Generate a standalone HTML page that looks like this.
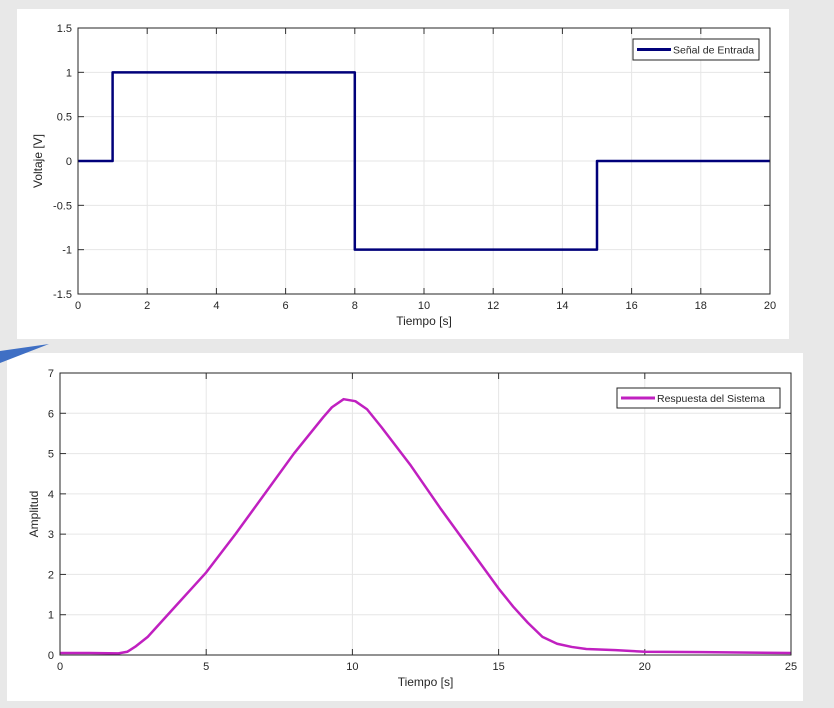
<!DOCTYPE html>
<html><head><meta charset="utf-8"><style>
body{margin:0;width:834px;height:708px;background:#e8e8e8;overflow:hidden;font-family:"Liberation Sans",sans-serif}
svg{position:absolute;left:0;top:0}
text{font-family:"Liberation Sans",sans-serif;fill:#262626}
</style></head><body>
<svg width="834" height="708" id="s">
<rect x="17" y="9" width="772" height="330" fill="#fff"/>
<rect x="7" y="353" width="796" height="348" fill="#fff"/>
<polygon points="0,351 49,344 0,363" fill="#3f6fc4"/>
<g id="top"></g>
<g id="bot"></g>
</svg>
<script>
const topT=[0,1,1,8,8,15,15,20];
const topV=[0,0,1,1,-1,-1,0,0];
const topXTicks=[0,2,4,6,8,10,12,14,16,18,20];
const topYTicks=[-1.5,-1,-0.5,0,0.5,1,1.5];
const botT=[0,1,2,2.3,2.6,3,3.5,4,4.5,5,6,7,8,8.5,9,9.3,9.7,10.1,10.5,11,12,13,14,15,15.5,16,16.5,17,17.5,18,19,20,22,25];
const botV=[0.05,0.05,0.04,0.08,0.22,0.45,0.85,1.25,1.65,2.05,3.0,4.0,5.0,5.45,5.9,6.15,6.35,6.3,6.1,5.65,4.7,3.65,2.65,1.65,1.2,0.8,0.45,0.28,0.2,0.15,0.12,0.08,0.07,0.05];
const botXTicks=[0,5,10,15,20,25];
const botYTicks=[0,1,2,3,4,5,6,7];
const NS='http://www.w3.org/2000/svg';
function mk(p,tag,a,txt){const e=document.createElementNS(NS,tag);for(const k in a)e.setAttribute(k,a[k]);if(txt!==undefined)e.textContent=txt;p.appendChild(e);return e;}
function chart(g,o){
 const sx=v=>o.x0+(v-o.xmin)/(o.xmax-o.xmin)*(o.x1-o.x0);
 const sy=v=>o.y0-(v-o.ymin)/(o.ymax-o.ymin)*(o.y0-o.y1);
 o.xt.forEach(t=>{const x=sx(t);
  let l=mk(g,'line',{x1:x,x2:x,y1:o.y1,y2:o.y0,stroke:'#e6e6e6','stroke-width':1});
  
  
  mk(g,'line',{x1:x,x2:x,y1:o.y0,y2:o.y0-6,stroke:'#333'});
  mk(g,'line',{x1:x,x2:x,y1:o.y1,y2:o.y1+6,stroke:'#333'});
  let tx=mk(g,'text',{x:x,y:o.y0+15,'text-anchor':'middle','font-size':11},String(t));
  
  
 });
 o.yt.forEach(t=>{const y=sy(t);
  let l=mk(g,'line',{x1:o.x0,x2:o.x1,y1:y,y2:y,stroke:'#e6e6e6','stroke-width':1});
  
  
  mk(g,'line',{x1:o.x0,x2:o.x0+6,y1:y,y2:y,stroke:'#333'});
  mk(g,'line',{x1:o.x1,x2:o.x1-6,y1:y,y2:y,stroke:'#333'});
  let tx=mk(g,'text',{x:o.x0-6,y:y+4,'text-anchor':'end','font-size':11},String(t));
  
  
 });
 let pts=o.t.map((t,i)=>sx(t)+','+sy(o.v[i])).join(' ');
 let pl=mk(g,'polyline',{points:pts,fill:'none',stroke:o.color,'stroke-width':o.sw,'stroke-linejoin':'round'});
 
 
 let fr=mk(g,'rect',{x:o.x0,y:o.y1,width:o.x1-o.x0,height:o.y0-o.y1,fill:'none',stroke:'#262626','stroke-width':1});
 
 
 let xl=mk(g,'text',{x:(o.x0+o.x1)/2,y:o.y0+31,'text-anchor':'middle','font-size':12},'Tiempo [s]');
 
 
 let yl=mk(g,'text',{x:0,y:0,'text-anchor':'middle','font-size':12,transform:`translate(${o.ylx},${(o.y0+o.y1)/2}) rotate(-90)`},o.ylabel);
 
 
 const L=o.leg;
 let lg=mk(g,'g',{});
 
 
 mk(lg,'rect',{x:L[0],y:L[1],width:L[2],height:L[3],fill:'#fff',stroke:'#262626'});
 mk(lg,'line',{x1:L[0]+4,x2:L[0]+38,y1:L[1]+L[3]/2,y2:L[1]+L[3]/2,stroke:o.color,'stroke-width':3});
 mk(lg,'text',{x:L[0]+40,y:L[1]+L[3]/2+4,'font-size':10.5},o.legText);
}
chart(document.getElementById('top'),{x0:78,x1:770,y0:294,y1:28,xmin:0,xmax:20,ymin:-1.5,ymax:1.5,xt:topXTicks,yt:topYTicks,t:topT,v:topV,color:'#00007a',sw:2.5,ylabel:'Voltaje [V]',ylx:42,leg:[633,39,126,21],legText:'Señal de Entrada'});
chart(document.getElementById('bot'),{x0:60,x1:791,y0:655,y1:373,xmin:0,xmax:25,ymin:0,ymax:7,xt:botXTicks,yt:botYTicks,t:botT,v:botV,color:'#c020c0',sw:2.5,ylabel:'Amplitud',ylx:38,leg:[617,388,163,20],legText:'Respuesta del Sistema'});
</script>
</body></html>
